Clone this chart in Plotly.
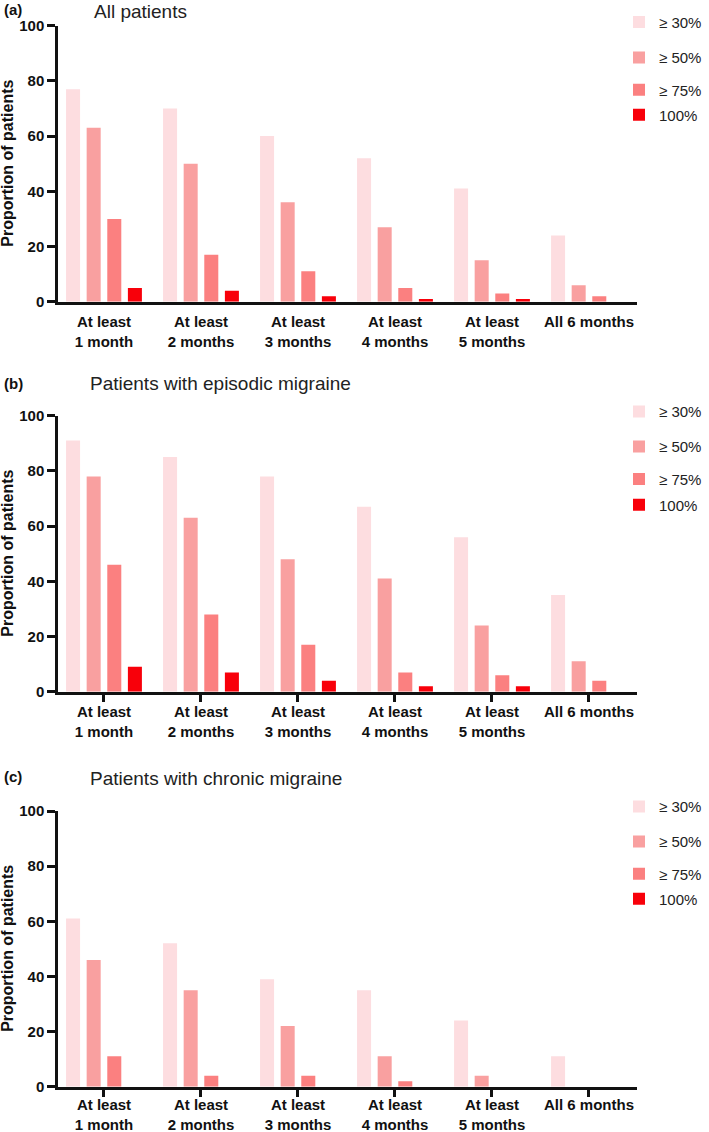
import plotly.graph_objects as go

categories = ["At least<br>1 month", "At least<br>2 months", "At least<br>3 months",
              "At least<br>4 months", "At least<br>5 months", "All 6 months"]
series_names = ["\u2265 30%", "\u2265 50%", "\u2265 75%", "100%"]
colors = ["#FDDDE0", "#F9A0A0", "#FB8080", "#F8000A"]

panel_letters = ["(a)", "(b)", "(c)"]
panel_titles = ["All patients", "Patients with episodic migraine", "Patients with chronic migraine"]

# (a) All patients
a_30 = [77, 70, 60, 52, 41, 24]
a_50 = [63, 50, 36, 27, 15, 6]
a_75 = [30, 17, 11, 5, 3, 2]
a_100 = [5, 4, 2, 1, 1, 0]
# (b) Episodic migraine
b_30 = [91, 85, 78, 67, 56, 35]
b_50 = [78, 63, 48, 41, 24, 11]
b_75 = [46, 28, 17, 7, 6, 4]
b_100 = [9, 7, 4, 2, 2, 0]
# (c) Chronic migraine
c_30 = [61, 52, 39, 35, 24, 11]
c_50 = [46, 35, 22, 11, 4, 0]
c_75 = [11, 4, 4, 2, 0, 0]
c_100 = [0, 0, 0, 0, 0, 0]

panels = [[a_30, a_50, a_75, a_100], [b_30, b_50, b_75, b_100], [c_30, c_50, c_75, c_100]]

W, H = 709, 1132
# pixel layout
x_left, x_right = 58, 637
y_tops = [25.7, 415.7, 811.0]
y_bots = [301.7, 691.7, 1086.7]
legend_y_px = [[22.3, 57.7, 90.0, 115.0],
               [411.7, 446.7, 479.3, 505.0],
               [806.7, 841.7, 874.0, 899.0]]
letter_y_px = [9.5, 383.5, 776.5]
title_y_px = [11.5, 384.0, 778.0]
label_standoff = [-3, -3, -5]

def py(p):
    return 1 - p / H

fig = go.Figure()
layout = dict(
    width=W, height=H,
    margin=dict(l=0, r=0, t=0, b=0, autoexpand=False),
    paper_bgcolor="white", plot_bgcolor="white",
    barmode="group", bargap=0.15, bargroupgap=0.32,
    font=dict(family="Liberation Sans, Arial, sans-serif", color="#111"),
)
annotations = []
leg_n = 0
for p in range(3):
    ax = "" if p == 0 else str(p + 1)
    for s in range(4):
        leg_n += 1
        lname = "legend" if leg_n == 1 else f"legend{leg_n}"
        fig.add_trace(go.Bar(
            x=categories, y=panels[p][s], name=series_names[s],
            marker=dict(color=colors[s], line=dict(width=0)),
            xaxis="x" + ax, yaxis="y" + ax, legend=lname, showlegend=True,
        ))
        layout[lname] = dict(
            x=619 / W, xanchor="left", y=py(legend_y_px[p][s]), yanchor="middle",
            bgcolor="rgba(0,0,0,0)", font=dict(size=15, color="#222"),
            itemwidth=30,
        )
    tick_col = "rgba(0,0,0,0)" if p == 0 else "#111"
    layout["xaxis" + ax] = dict(
        domain=[x_left / W, x_right / W], anchor="y" + ax,
        range=[-0.474, 5.495], showgrid=False, zeroline=False,
        showline=True, linecolor="#111", linewidth=2.5,
        ticks="outside", ticklen=8, tickwidth=2.5, tickcolor=tick_col,
        ticklabelstandoff=label_standoff[p],
        tickfont=dict(size=15, color="#111", family="Liberation Sans, Arial, sans-serif", weight="bold"),
        fixedrange=True,
    )
    layout["yaxis" + ax] = dict(
        domain=[py(y_bots[p]), py(y_tops[p])], anchor="x" + ax,
        range=[0, 100], tickvals=[0, 20, 40, 60, 80, 100],
        showgrid=False, zeroline=False,
        showline=True, linecolor="#111", linewidth=2.5,
        ticks="outside", ticklen=8, tickwidth=2.5, tickcolor="#111",
        tickfont=dict(size=15, color="#111", family="Liberation Sans, Arial, sans-serif", weight="bold"),
        fixedrange=True,
    )
    annotations.append(dict(
        text="Proportion of patients", textangle=-90, xref="paper", yref="paper",
        x=8 / W, y=py((y_tops[p] + y_bots[p]) / 2), xanchor="center", yanchor="middle",
        showarrow=False, font=dict(size=16, color="#111", weight="bold"),
    ))
    annotations.append(dict(
        text=panel_letters[p], xref="paper", yref="paper",
        x=2 / W, y=py(letter_y_px[p]), xanchor="left", yanchor="middle",
        showarrow=False, font=dict(size=15, color="#111", weight="bold"),
    ))
    annotations.append(dict(
        text=panel_titles[p], xref="paper", yref="paper",
        x=(88 if p else 92) / W, y=py(title_y_px[p]), xanchor="left", yanchor="middle",
        showarrow=False, font=dict(size=19, color="#222"),
    ))

layout["annotations"] = annotations
fig.update_layout(**layout)
fig.write_html("out.html", config={"displayModeBar": False},
               post_script="document.body.style.margin='0';document.body.style.overflow='hidden';")
